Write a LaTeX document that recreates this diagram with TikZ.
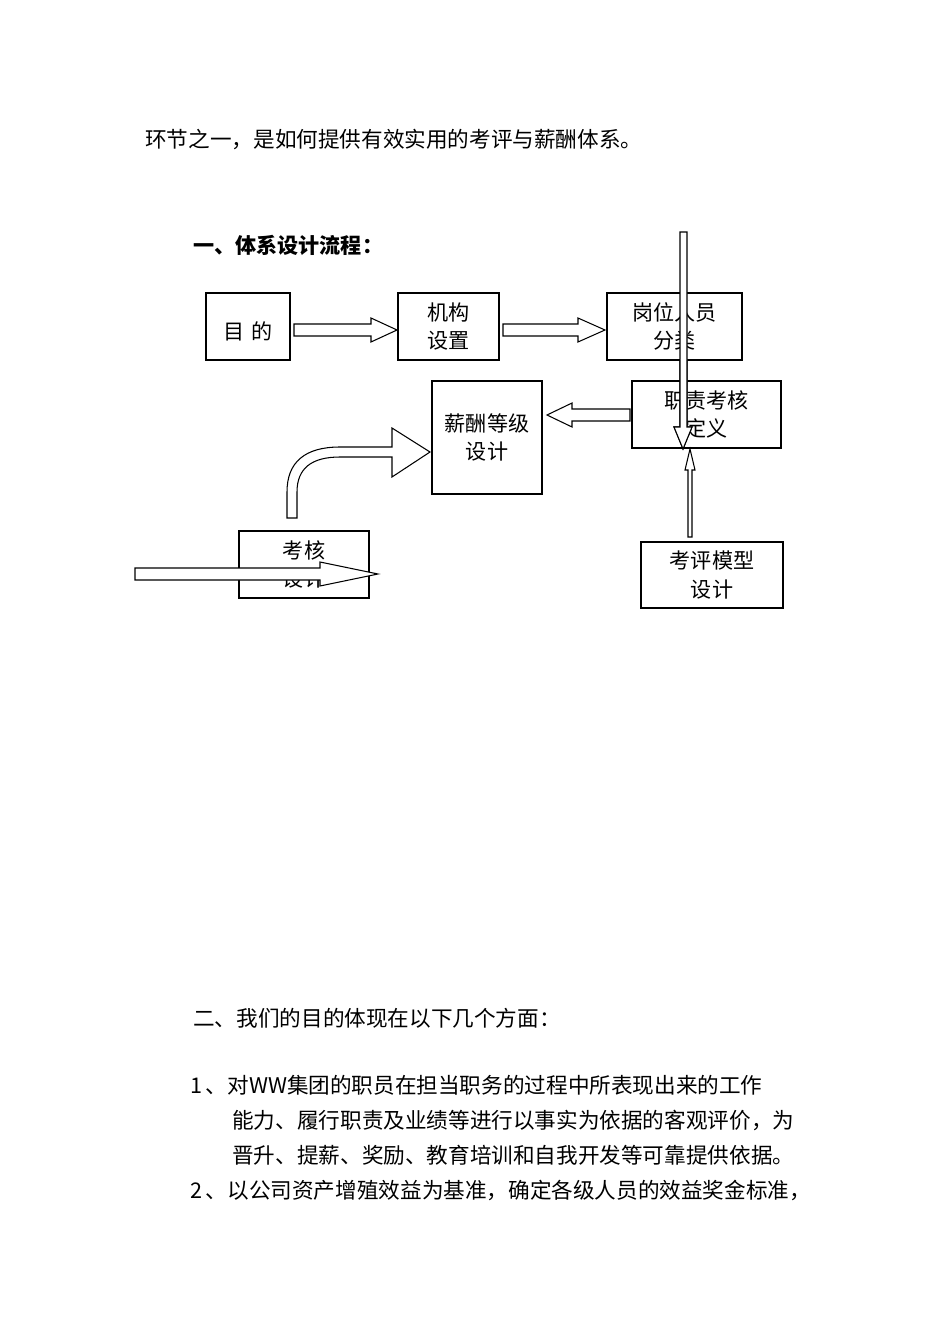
\documentclass[tikz,border=0pt]{standalone}
\usepackage{fontspec}
\setmainfont{Noto Sans CJK SC}
\tikzset{
  caja/.style={draw,line width=0.6pt,align=center,inner sep=0pt,font=\fontsize{12}{16}\selectfont},
  texto/.style={anchor=west,inner sep=0pt,font=\fontsize{12.3}{15}\selectfont},
  flecha/.style={draw,line width=0.6pt,fill=white}
}
\begin{document}
\begin{tikzpicture}[x=0.02cm,y=-0.02cm]
    \useasboundingbox (0,0) rectangle (950,1344);
    % texto superior
    \node[texto] (t1) at (145,140) {环节之一，是如何提供有效实用的考评与薪酬体系。};
    \node[texto,font=\fontsize{12}{15}\selectfont\bfseries] (t2) at (193,245) {一、体系设计流程：};
    % cajas
    \node[caja,minimum width=84*0.02cm,minimum height=67*0.02cm] (mudi) at (248,326.5) {\\目\,\,的};
    \node[caja,minimum width=101*0.02cm,minimum height=67*0.02cm] (jigou) at (448.5,326.5) {机构\\设置};
    \node[caja,minimum width=135*0.02cm,minimum height=67*0.02cm] (gangwei) at (674.5,326.5) {岗位人员\\分类};
    \node[caja,minimum width=149*0.02cm,minimum height=67*0.02cm] (zhize) at (706.5,414.5) {职责考核\\定义};
    \node[caja,minimum width=110*0.02cm,minimum height=113*0.02cm] (xinchou) at (487,437.5) {薪酬等级\\设计};
    \node[caja,minimum width=130*0.02cm,minimum height=67*0.02cm] (kaohe) at (304,564.5) {考核\\设计};
    \node[caja,minimum width=142*0.02cm,minimum height=66*0.02cm] (moxing) at (712,575) {考评模型\\设计};
    % flecha mudi a jigou
    \path[flecha] (294,324) -- (371,324) -- (371,318) -- (397,330) -- (371,342) -- (371,336) -- (294,336) -- cycle;
    % flecha jigou a gangwei
    \path[flecha] (503,324) -- (578,324) -- (578,318) -- (605,330) -- (578,342) -- (578,336) -- (503,336) -- cycle;
    % flecha gangwei a zhize
    \path[flecha] (680,232) -- (687,232) -- (687,427) -- (692,427) -- (683,449) -- (674,427) -- (680,427) -- cycle;
    \path[flecha] (680,360) -- (680,427) -- (674,427) -- (683,449) -- (692,427) -- (687,427) -- (687,360);
    % flecha moxing a zhize
    \path[flecha] (688,537) -- (688,470) -- (685,470) -- (690,449) -- (695,470) -- (692,470) -- (692,537) -- cycle;
    % flecha zhize a xinchou
    \path[flecha] (630,409) -- (572,409) -- (572,403) -- (547,415) -- (572,427) -- (572,421) -- (630,421) -- cycle;
    % flecha curva kaohe a xinchou
    \path[flecha] (287,518) -- (287,492) .. controls (287,462) and (305,447) .. (340,447) -- (392,447)
      -- (392,428) -- (430,452) -- (392,477) -- (392,457) -- (340,457)
      .. controls (312,457) and (297,468) .. (297,492) -- (297,518) -- cycle;
    % flecha horizontal sobre kaohe
    \path[flecha] (135,568) -- (320,568) -- (320,562) -- (378,574) -- (320,586) -- (320,580) -- (135,580) -- cycle;
    % texto inferior
    \node[texto] (t3) at (193,1018) {二、我们的目的体现在以下几个方面：};
    \node[texto] (t4) at (190,1085) {1\,、对WW集团的职员在担当职务的过程中所表现出来的工作};
    \node[texto] (t5) at (232,1120) {能力、履行职责及业绩等进行以事实为依据的客观评价，为};
    \node[texto] (t6) at (232,1155) {晋升、提薪、奖励、教育培训和自我开发等可靠提供依据。};
    \node[texto] (t7) at (190,1190) {2\,、以公司资产增殖效益为基准，确定各级人员的效益奖金标准，};
\end{tikzpicture}
\end{document}
